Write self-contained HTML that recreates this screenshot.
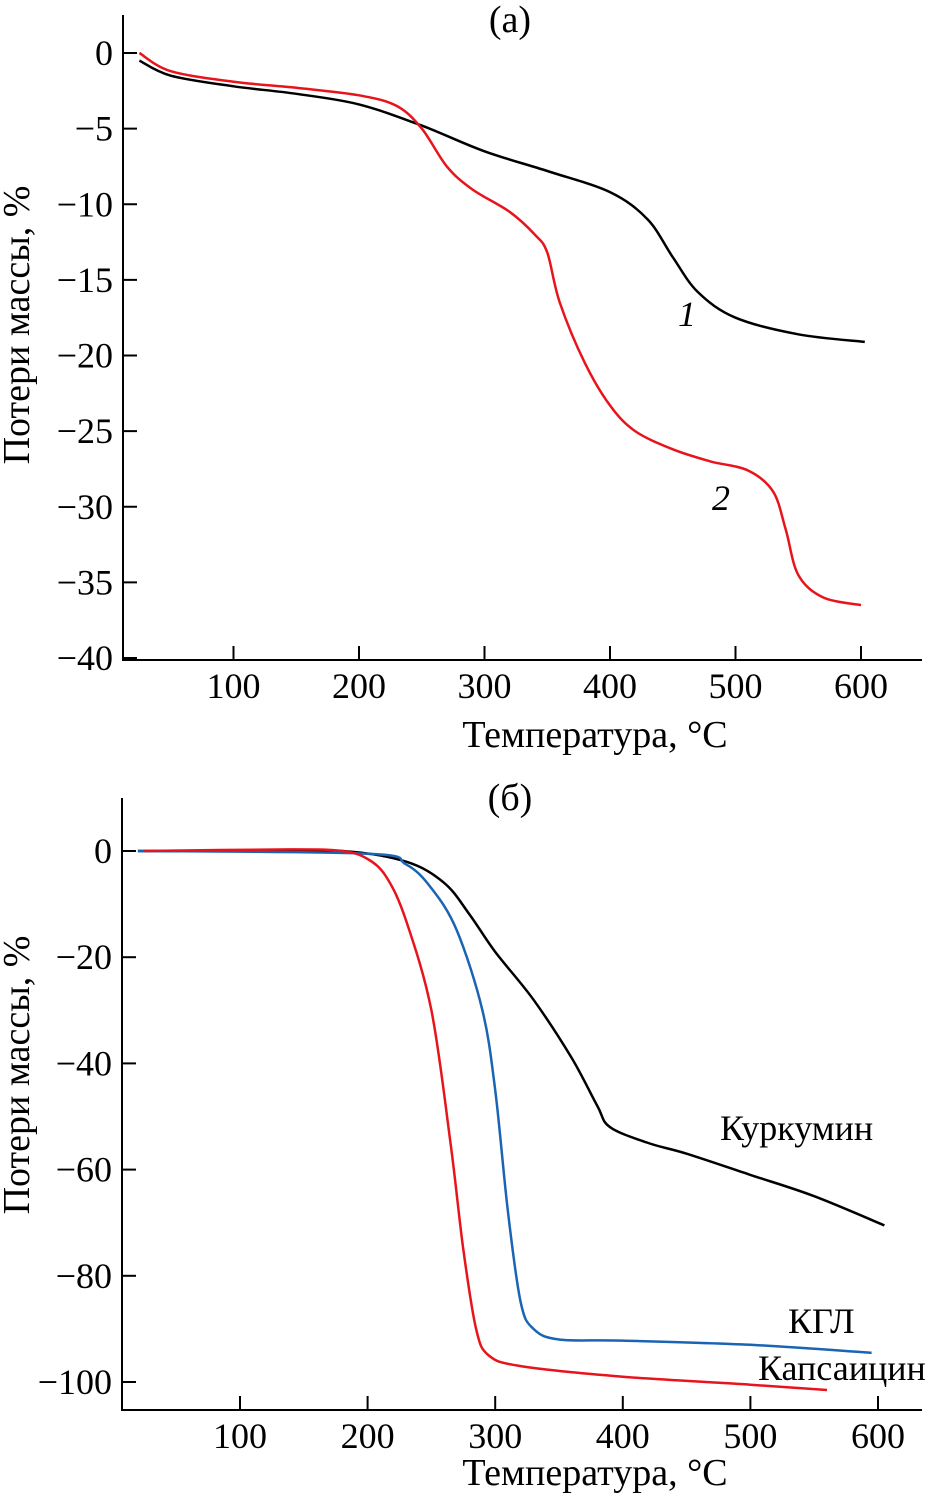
<!DOCTYPE html>
<html><head><meta charset="utf-8">
<style>
html,body{margin:0;padding:0;background:#fff;}
svg{display:block;font-family:"Liberation Serif","DejaVu Serif",serif;}
text{font-family:"Liberation Serif","DejaVu Serif",serif;}
</style></head>
<body>
<svg id="chart" width="950" height="1496" viewBox="0 0 950 1496" xmlns="http://www.w3.org/2000/svg"></svg>
<script>
// Panel (a) data
const aTemp1 = [25,50,100,150,200,250,300,350,400,430,450,470,500,550,603];
const aLoss1 = [-0.5,-1.5,-2.2,-2.7,-3.4,-4.8,-6.5,-7.8,-9.2,-11,-13.5,-15.8,-17.5,-18.6,-19.1];
const aTemp2 = [25,50,100,150,200,230,250,270,290,320,340,350,360,380,400,420,450,480,510,530,540,550,570,600];
const aLoss2 = [0,-1.2,-1.9,-2.3,-2.8,-3.5,-5,-7.5,-9,-10.5,-12,-13.2,-16.5,-20.5,-23.3,-25,-26.2,-27,-27.6,-29,-31.5,-34.5,-36,-36.5];
const aXTicks = [100,200,300,400,500,600];
const aYTicks = [0,-5,-10,-15,-20,-25,-30,-35,-40];
// Panel (b) data
const bTempCur = [20,100,180,230,260,280,300,330,360,380,390,420,450,500,550,605];
const bLossCur = [0,0,0,-2,-6,-12,-19,-28,-39,-48,-52,-55,-57,-61,-65,-70.5];
const bTempKGL = [20,200,230,250,270,290,300,310,320,330,350,400,500,595];
const bLossKGL = [0,-0.5,-2.5,-7,-15,-30,-45,-68,-85,-90,-92,-92.2,-93,-94.5];
const bTempCap = [25,140,180,200,215,230,250,265,275,285,295,320,400,500,560];
const bLossCap = [0,0.3,0,-1.5,-5,-13,-30,-55,-75,-90,-95,-97,-99,-100.5,-101.5];
const bXTicks = [100,200,300,400,500,600];
const bYTicks = [0,-20,-40,-60,-80,-100];

const svg = document.getElementById('chart');
const NS = 'http://www.w3.org/2000/svg';
const FF = '"Liberation Serif","DejaVu Serif",serif';
function mk(tag, attrs, parent){const e=document.createElementNS(NS,tag);for(const k in attrs)e.setAttribute(k,attrs[k]);(parent||svg).appendChild(e);return e;}
function smooth(pts){let d='M'+pts[0][0].toFixed(1)+','+pts[0][1].toFixed(1);
 for(let i=0;i<pts.length-1;i++){const p0=pts[i-1]||pts[i],p1=pts[i],p2=pts[i+1],p3=pts[i+2]||p2;
  const c1=[p1[0]+(p2[0]-p0[0])/6,p1[1]+(p2[1]-p0[1])/6],c2=[p2[0]-(p3[0]-p1[0])/6,p2[1]-(p3[1]-p1[1])/6];
  d+=' C'+c1[0].toFixed(1)+','+c1[1].toFixed(1)+' '+c2[0].toFixed(1)+','+c2[1].toFixed(1)+' '+p2[0].toFixed(1)+','+p2[1].toFixed(1);}
 return d;}

function panel(cfg){
 const g=mk('g',{});
 
 
 const X=v=>cfg.x0+(v-cfg.xmin)*cfg.xs, Y=v=>cfg.y0+(cfg.ymax-v)*cfg.ys;
 const ax=mk('path',{d:`M${cfg.ax},${cfg.top} V${cfg.bottom} H${cfg.right}`,stroke:'#000','stroke-width':2,fill:'none'},g);
 
 
 cfg.yt.forEach(t=>{const y=Y(t);
  const l=mk('line',{x1:cfg.ax,x2:cfg.ax+14,y1:y,y2:y,stroke:'#000','stroke-width':2},g);
  
  
  const tx=mk('text',{x:cfg.ax-10,y:y+12,'font-size':36,'text-anchor':'end','font-family':FF},g);tx.textContent=(t<0?'\u2212'+(-t):t);
  
  });
 cfg.xt.forEach(t=>{const x=X(t);
  const l=mk('line',{x1:x,x2:x,y1:cfg.bottom,y2:cfg.bottom-14,stroke:'#000','stroke-width':2},g);
  
  
  const tx=mk('text',{x:x,y:cfg.bottom+38,'font-size':36,'text-anchor':'middle','font-family':FF},g);tx.textContent=t;
  
  });
 cfg.series.forEach(s=>{const pts=s.t.map((t,i)=>[X(t),Y(s.v[i])]);
  const p=mk('path',{d:smooth(pts),stroke:s.c,'stroke-width':2.5,fill:'none'},g);
  
  });
 const xt=mk('text',{x:cfg.xlx,y:cfg.xly,'font-size':38,'text-anchor':'middle','font-family':FF},g);xt.textContent='Температура, °С';
 
 
 const yt=mk('text',{x:0,y:0,'font-size':38,'text-anchor':'middle','font-family':FF,transform:`translate(29,${cfg.yly}) rotate(-90)`},g);yt.textContent='Потери массы, %';
 
 
 const pt=mk('text',{x:510,y:cfg.ptY,'font-size':38,'text-anchor':'middle','font-family':FF},g);pt.textContent=cfg.title;
 
 
 cfg.labels.forEach(L=>{const t=mk('text',{x:L.x,y:L.y,'font-size':L.fs||36,'font-family':FF,'font-style':L.it?'italic':'normal'},g);t.textContent=L.s;
  
  });
}

panel({name:'panel-a',ax:123,top:15,bottom:660,right:922,x0:108,xmin:0,xs:1.255,y0:53,ymax:0,ys:15.125,
 xt:aXTicks,yt:aYTicks,xlx:595,xly:747,yly:325,ptY:32,title:'(а)',
 series:[{t:aTemp1,v:aLoss1,c:'#000',n:'curve-1'},{t:aTemp2,v:aLoss2,c:'#e8141c',n:'curve-2'}],
 labels:[{x:678,y:326,s:'1',it:true},{x:712,y:510,s:'2',it:true}]});
panel({name:'panel-b',ax:122,top:798,bottom:1410,right:922,x0:112.4,xmin:0,xs:1.276,y0:851,ymax:0,ys:5.31,
 xt:bXTicks,yt:bYTicks,xlx:595,xly:1485,yly:1075,ptY:810,title:'(б)',
 series:[{t:bTempCur,v:bLossCur,c:'#000',n:'curcumin-curve'},{t:bTempKGL,v:bLossKGL,c:'#1a64b4',n:'kgl-curve'},{t:bTempCap,v:bLossCap,c:'#e8141c',n:'capsaicin-curve'}],
 labels:[{x:720,y:1140,s:'Куркумин'},{x:788,y:1333,s:'КГЛ'},{x:758,y:1380,s:'Капсаицин'}]});
</script>
</body></html>
